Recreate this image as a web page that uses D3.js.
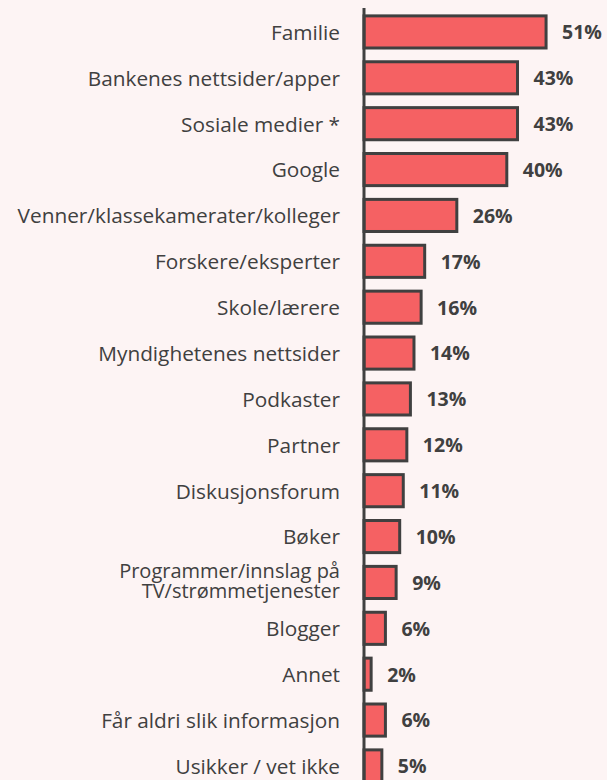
<!DOCTYPE html>
<html>
<head>
<meta charset="utf-8">
<script src="https://cdn.jsdelivr.net/npm/d3@7"></script>
<style>
  body { margin: 0; background: #fdf4f4; }
  svg { display: block; }
</style>
</head>
<body>
<div id="chart"></div>
<script>
// categories and values
const categories = [
    "Familie",
    "Bankenes nettsider/apper",
    "Sosiale medier *",
    "Google",
    "Venner/klassekamerater/kolleger",
    "Forskere/eksperter",
    "Skole/lærere",
    "Myndighetenes nettsider",
    "Podkaster",
    "Partner",
    "Diskusjonsforum",
    "Bøker",
    "Programmer/innslag på\nTV/strømmetjenester",
    "Blogger",
    "Annet",
    "Får aldri slik informasjon",
    "Usikker / vet ikke"
]
const values = [51, 43, 43, 40, 26, 17, 16, 14, 13, 12, 11, 10, 9, 6, 2, 6, 5]

const width = 607, height = 780
const axisX = 364
const font = "'Open Sans', sans-serif"

const data = categories.map((c, i) => ({label: c, value: values[i]}))

const svg = d3.select("#chart")
    .append("svg")
    .attr("width", width)
    .attr("height", height)

svg.append("rect")
    .attr("width", width)
    .attr("height", height)
    .attr("fill", "#fdf4f4")

const x = d3.scaleLinear()
    .domain([0, 100])
    .range([axisX, axisX + 357])

const y = d3.scaleBand()
    .domain(categories)
    .range([9, 9 + 17 * 45.875])
    .paddingInner(0.30)
    .paddingOuter(0.15)

// bars
svg.selectAll(".bar")
    .data(data)
    .enter()
    .append("rect")
    .attr("class", "bar")
    .attr("x", x(0))
    .attr("y", d => y(d.label))
    .attr("width", d => x(d.value) - x(0))
    .attr("height", y.bandwidth())
    .attr("fill", "#f56163")
    .attr("stroke", "#404040")
    .attr("stroke-width", 3)

// axis line
svg.append("line")
    .attr("x1", axisX)
    .attr("x2", axisX)
    .attr("y1", 8)
    .attr("y2", height)
    .attr("stroke", "#404040")
    .attr("stroke-width", 3)

// category labels
const labels = svg.selectAll(".cat")
    .data(data)
    .enter()
    .append("text")
    .attr("class", "cat")
    .attr("x", 340)
    .attr("y", d => y(d.label) + y.bandwidth() / 2)
    .attr("text-anchor", "end")
    .attr("font-family", font)
    .attr("font-size", 20.8)
    .attr("fill", "#404040")

labels.each(function(d) {
    const lines = d.label.split("\n")
    const t = d3.select(this)
    lines.forEach((line, i) => {
        t.append("tspan")
            .attr("x", 340)
            .attr("font-size", lines.length > 1 ? 20 : null)
            .attr("dy", i === 0 ? (lines.length > 1 ? "-0.22em" : "0.38em") : "0.98em")
            .text(line)
    })
})

// value labels
svg.selectAll(".val")
    .data(data)
    .enter()
    .append("text")
    .attr("class", "val")
    .attr("x", d => x(d.value) + 16)
    .attr("y", d => y(d.label) + y.bandwidth() / 2)
    .attr("dy", "0.38em")
    .attr("font-family", font)
    .attr("font-weight", "bold")
    .attr("font-size", 19.5)
    .attr("fill", "#404040")
    .text(d => d.value + "%")
</script>
</body>
</html>
